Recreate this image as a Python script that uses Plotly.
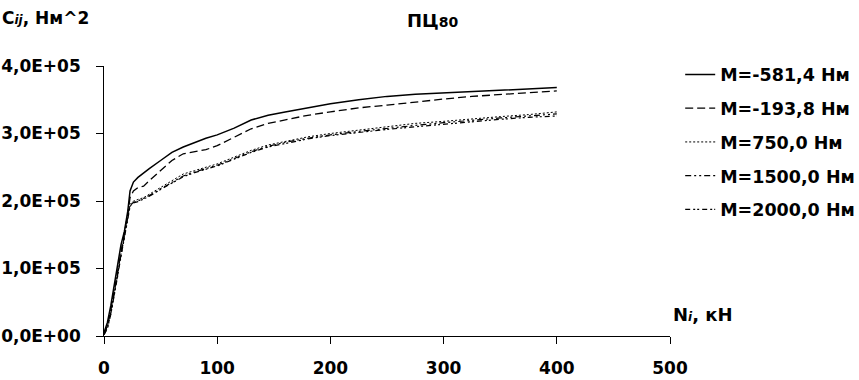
import plotly.graph_objects as go

N_kN = [0, 3, 6, 9, 12, 15, 18, 21, 23, 26, 30, 35, 40, 50, 60, 70, 80, 90, 100,
        115, 130, 145, 160, 180, 200, 225, 250, 275, 300, 325, 350, 375, 400]

C_m581 = [0.05, 0.2, 0.45, 0.75, 1.05, 1.35, 1.55, 1.85, 2.15, 2.28, 2.35, 2.42, 2.48,
          2.6, 2.72, 2.8, 2.87, 2.93, 2.98, 3.08, 3.2, 3.27, 3.32, 3.38, 3.44, 3.5,
          3.55, 3.58, 3.6, 3.62, 3.63, 3.65, 3.68]
C_m194 = [0.03, 0.15, 0.38, 0.65, 0.95, 1.25, 1.5, 1.8, 2.05, 2.15, 2.2, 2.22, 2.3,
          2.45, 2.6, 2.7, 2.73, 2.76, 2.82, 2.95, 3.07, 3.15, 3.2, 3.27, 3.32, 3.38,
          3.42, 3.47, 3.51, 3.55, 3.58, 3.6, 3.63]
C_750 = [0.04, 0.14, 0.36, 0.62, 0.92, 1.22, 1.47, 1.78, 1.95, 2.0, 2.02, 2.05, 2.1,
         2.2, 2.3, 2.4, 2.45, 2.5, 2.55, 2.65, 2.75, 2.83, 2.88, 2.95, 3.0, 3.05,
         3.1, 3.15, 3.18, 3.22, 3.25, 3.28, 3.32]
C_1500 = [0.02, 0.12, 0.33, 0.6, 0.9, 1.2, 1.45, 1.75, 1.93, 1.98, 2.0, 2.04, 2.08,
          2.18, 2.28, 2.37, 2.43, 2.48, 2.53, 2.63, 2.73, 2.81, 2.87, 2.93, 2.98, 3.03,
          3.08, 3.12, 3.16, 3.2, 3.23, 3.26, 3.29]
C_2000 = [0.02, 0.11, 0.32, 0.58, 0.88, 1.18, 1.43, 1.73, 1.92, 1.97, 1.99, 2.03, 2.07,
          2.17, 2.27, 2.36, 2.42, 2.47, 2.52, 2.62, 2.72, 2.8, 2.85, 2.92, 2.97, 3.02,
          3.06, 3.1, 3.14, 3.18, 3.21, 3.24, 3.26]

series_names = ["M=-581,4 Нм", "M=-193,8 Нм", "M=750,0 Нм", "M=1500,0 Нм", "M=2000,0 Нм"]
series_values = [C_m581, C_m194, C_750, C_1500, C_2000]
series_dash = ["solid", "8px,4px", "2px,2px", "6px,3px,2px,3px,2px,3px", "5px,3px,2px,2px,2px,3px"]
series_width = [1.5, 1.3, 1.0, 1.2, 1.2]

y_tickvals = [0, 100000, 200000, 300000, 400000]
y_ticktext = ["0,0E+00", "1,0E+05", "2,0E+05", "3,0E+05", "4,0E+05"]
x_tickvals = [0, 100, 200, 300, 400, 500]

FONT = "DejaVu Sans"
PAD = "\u00a0\u00a0"

fig = go.Figure()
for i, (name, vals) in enumerate(zip(series_names, series_values)):
    fig.add_trace(go.Scatter(
        x=N_kN, y=[v * 1e5 for v in vals], mode="lines", name=name,
        legendgroup=f"g{i}",
        line=dict(color="black", width=series_width[i], dash=series_dash[i]),
    ))

fig.update_layout(
    width=859, height=380,
    margin=dict(l=104, r=189, t=66, b=44, autoexpand=False),
    paper_bgcolor="white", plot_bgcolor="white",
    font=dict(family=FONT, color="black", size=17),
    showlegend=True,
    legend=dict(x=1.018, y=1.035, xanchor="left", yanchor="top",
                font=dict(family=FONT, size=17.5, color="black", weight="bold"),
                itemwidth=30, tracegroupgap=8, traceorder="grouped",
                bgcolor="rgba(0,0,0,0)"),
    xaxis=dict(range=[0, 500], tickvals=x_tickvals, showline=True, linecolor="black",
               linewidth=1, ticks="outside", ticklen=7, tickcolor="black",
               showgrid=False, zeroline=False, ticklabelstandoff=10, automargin=False,
               tickfont=dict(family=FONT, size=17, color="black", weight="bold")),
    yaxis=dict(range=[0, 400000], tickvals=y_tickvals, ticktext=[t + PAD for t in y_ticktext],
               showline=True, linecolor="black", linewidth=1, ticks="outside",
               ticklen=7, tickcolor="black", showgrid=False, zeroline=False,
               ticklabelstandoff=0, automargin=False,
               tickfont=dict(family=FONT, size=17, color="black", weight="bold")),
    annotations=[
        dict(text="ПЦ<span style='font-size:14px'>80</span>", xref="paper", yref="paper",
             x=(405 - 104) / 566, y=(336 - 20) / 270, xanchor="left", yanchor="middle",
             showarrow=False, font=dict(family=FONT, size=18, color="black", weight="bold")),
        dict(text="C<i><span style='font-size:12px'>ij</span></i>, Нм^2", xref="paper", yref="paper",
             x=(0 - 104) / 566, y=(336 - 18) / 270, xanchor="left", yanchor="middle",
             showarrow=False, font=dict(family=FONT, size=17, color="black", weight="bold")),
        dict(text="N<i><span style='font-size:12px'>i</span></i>, кН", xref="paper", yref="paper",
             x=(671 - 104) / 566, y=(336 - 314) / 270, xanchor="left", yanchor="middle",
             showarrow=False, font=dict(family=FONT, size=18, color="black", weight="bold")),
    ],
)

fig.write_html("out.html", config={"displayModeBar": False},
               post_script="document.body.style.margin='0';document.body.style.overflow='hidden';")
